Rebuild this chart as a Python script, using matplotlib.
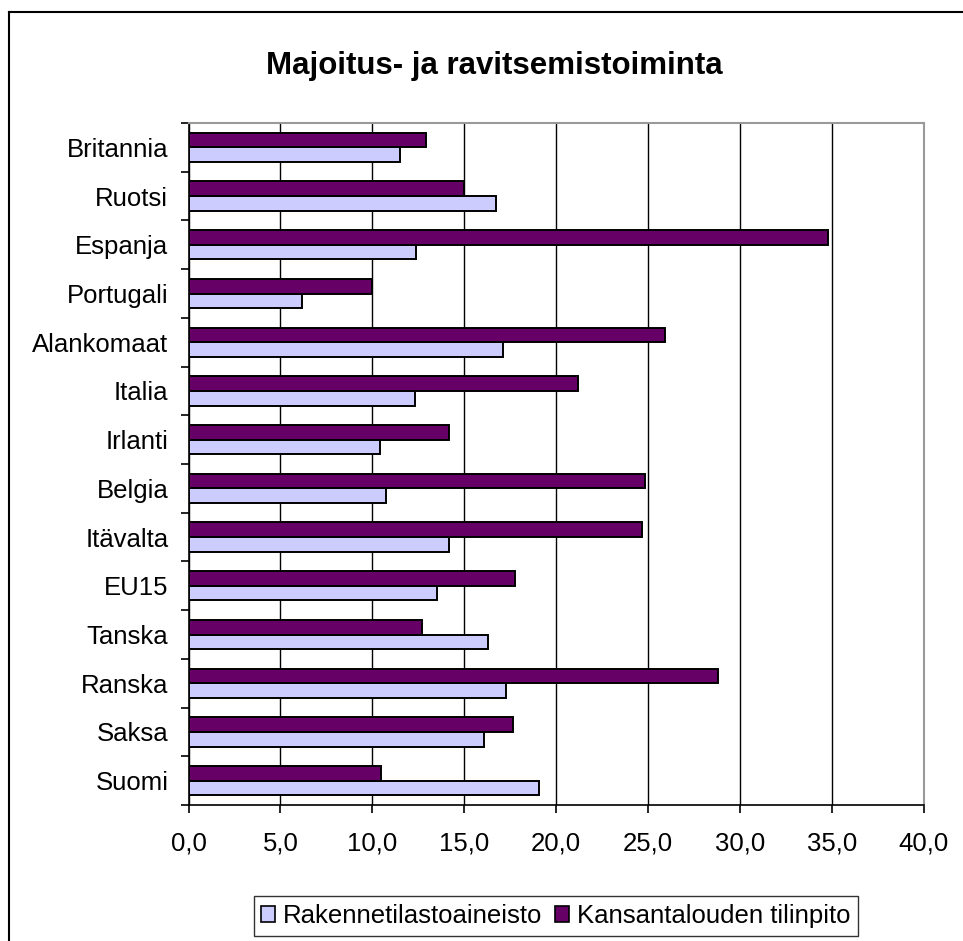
import matplotlib
matplotlib.use("Agg")
import matplotlib.pyplot as plt
from matplotlib.lines import Line2D
from matplotlib.patches import Patch
from matplotlib.ticker import FixedLocator, FuncFormatter

plt.rcParams['font.family'] = ['Liberation Sans', 'DejaVu Sans']

countries = ["Suomi", "Saksa", "Ranska", "Tanska", "EU15", "Itävalta", "Belgia",
             "Irlanti", "Italia", "Alankomaat", "Portugali", "Espanja", "Ruotsi", "Britannia"]
rakenne = [19.05, 16.1, 17.3, 16.3, 13.5, 14.15, 10.75, 10.4, 12.3, 17.1, 6.2, 12.4, 16.75, 11.5]
kansantalous = [10.45, 17.65, 28.8, 12.7, 17.75, 24.7, 24.85, 14.15, 21.2, 25.95, 10.0, 34.8, 15.0, 12.95]
series_names = ["Rakennetilastoaineisto", "Kansantalouden tilinpito"]
colors = ["#CCCCFF", "#660066"]
x_ticks = [0, 5, 10, 15, 20, 25, 30, 35, 40]

W, H = 963, 941
fig = plt.figure(figsize=(W / 100, H / 100), dpi=100)

# chart-area border: only left and top edges are inside the picture
fig.add_artist(Line2D([9 / W, 9 / W], [0, 1 - 12 / H], color="black", linewidth=1.5))
fig.add_artist(Line2D([9 / W, 1], [1 - 12 / H, 1 - 12 / H], color="black", linewidth=1.5))

ax = fig.add_axes([188.5 / W, 1 - 805 / H, 735 / W, 682 / H])

ypos = list(range(len(countries)))
h = 0.30
ax.barh([y - h / 2 for y in ypos], rakenne, height=h, color=colors[0],
        edgecolor="black", linewidth=1.4, zorder=3)
ax.barh([y + h / 2 for y in ypos], kansantalous, height=h, color=colors[1],
        edgecolor="black", linewidth=1.4, zorder=3)

ax.set_xlim(0, 40)
ax.set_ylim(-0.5, len(countries) - 0.5)
ax.set_xticks(x_ticks)
ax.xaxis.set_major_formatter(FuncFormatter(lambda v, p: f"{v:.1f}".replace(".", ",")))
ax.xaxis.grid(True, color="black", linewidth=1.0, zorder=0)
ax.set_axisbelow(True)

ax.set_yticks(ypos)
ax.set_yticklabels(countries)
ax.yaxis.set_minor_locator(FixedLocator([y - 0.5 for y in range(len(countries) + 1)]))
ax.tick_params(axis="y", which="major", length=0, pad=14.5, labelsize=18.5)
ax.tick_params(axis="y", which="minor", length=6, width=1.2, direction="out")
ax.tick_params(axis="x", which="major", length=6, width=1.2, direction="out", pad=13, labelsize=18.5)

for s in ["left", "bottom"]:
    ax.spines[s].set_color("black")
    ax.spines[s].set_linewidth(1.2)
for s in ["top", "right"]:
    ax.spines[s].set_color("#999999")
    ax.spines[s].set_linewidth(1.5)

fig.text(494 / W, 1 - 66 / H, "Majoitus- ja ravitsemistoiminta", ha="center", va="center",
         fontsize=22.5, fontweight="bold")

handles = [Patch(facecolor=c, edgecolor="black", linewidth=1.2) for c in colors]
leg = fig.legend(handles, series_names, loc="center", bbox_to_anchor=(556 / W, 1 - 916 / H),
                 ncol=2, fontsize=18.5, frameon=True, fancybox=False, handlelength=0.55,
                 handleheight=0.55, handletextpad=0.3, columnspacing=0.5, borderpad=0.3,
                 borderaxespad=0)
leg.get_frame().set_edgecolor("black")
leg.get_frame().set_linewidth(1.0)

fig.savefig("out.png", dpi=100)
